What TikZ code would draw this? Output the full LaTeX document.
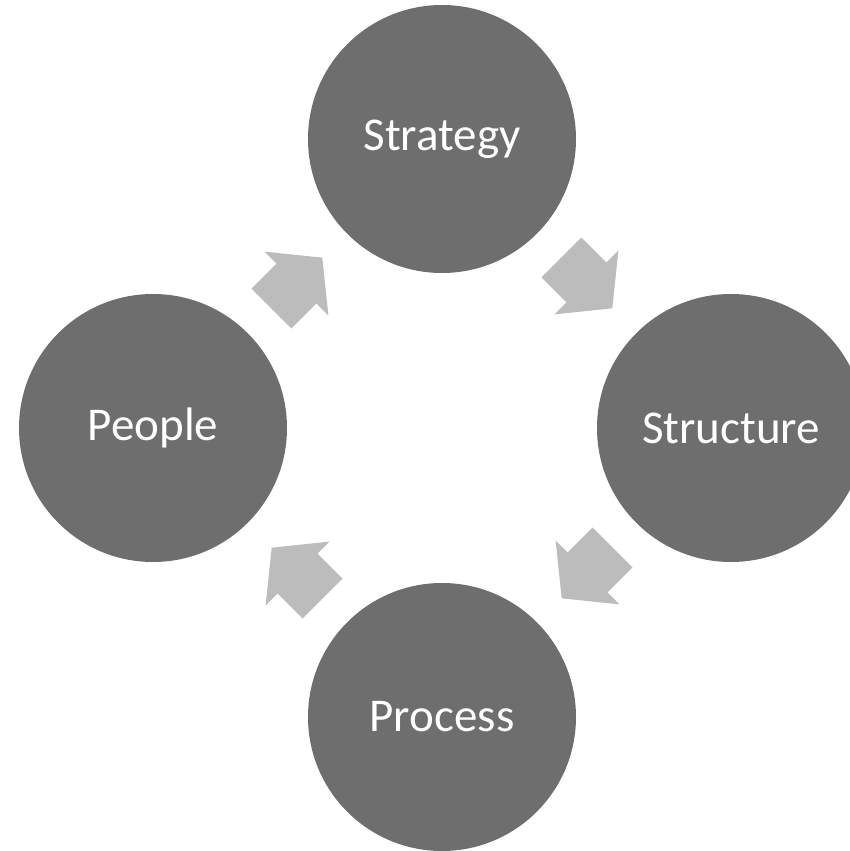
\documentclass[tikz,border=0pt]{standalone}
\usepackage{fontspec}
\setmainfont{Carlito}
\usetikzlibrary{shapes.arrows}
\definecolor{circlegray}{HTML}{6E6E6E}
\definecolor{arrowgray}{HTML}{BCBCBC}
\tikzset{
  stage/.style={circle, fill=circlegray, text=white, minimum size=268pt,
    inner sep=0pt, font=\fontsize{47}{56}\selectfont},
  cyclearrow/.style={single arrow, fill=arrowgray, inner xsep=0pt,
    inner ysep=28pt, minimum height=72pt, single arrow head extend=17pt,
    single arrow tip angle=102, anchor=tip}
}
\begin{document}
\begin{tikzpicture}[x=1pt,y=1pt]
      \useasboundingbox (-442,-423) rectangle (408,428);
      \clip (-442,-423) rectangle (408,428);
      \draw
        (90:289) node[stage] (strategy){Strategy}
        (0:289) node[stage] (structure){Structure}
        (270:289) node[stage] (process){Process}
        (180:289) node[stage] (people){People};
      \begin{scope}[every node/.style={cyclearrow}]
        \node[rotate=45] (a1) at (-119.5,170.5) {};
        \node[rotate=-45] (a2) at (170.5,119.5) {};
        \node[rotate=-135] (a3) at (119.5,-170.5) {};
        \node[rotate=135] (a4) at (-170.5,-119.5) {};
      \end{scope}
    \end{tikzpicture}
\end{document}
